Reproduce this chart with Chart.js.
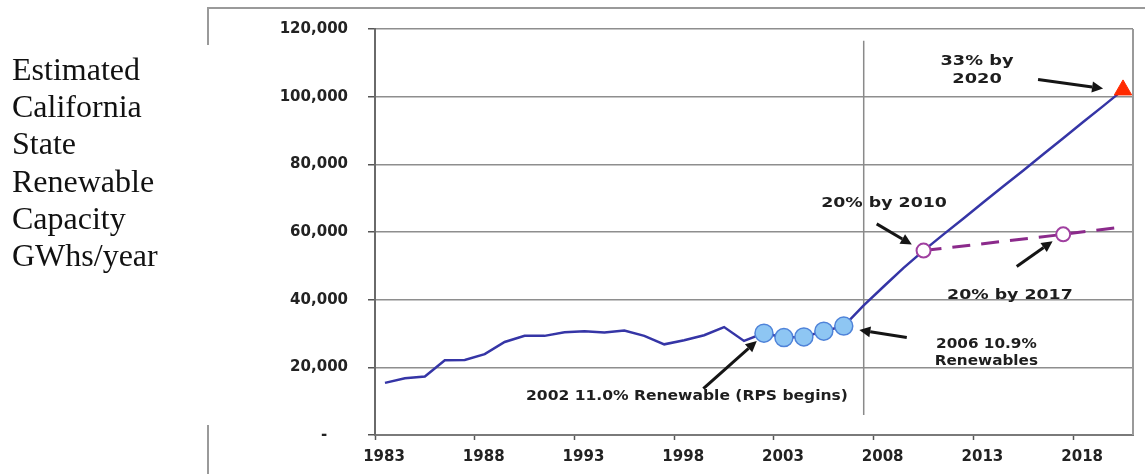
<!DOCTYPE html>
<html>
<head>
<meta charset="utf-8">
<script src="https://cdn.jsdelivr.net/npm/chart.js@4.4.1/dist/chart.umd.min.js"></script>
<style>
  html, body { margin: 0; padding: 0; background: #fff; width: 1145px; height: 474px; overflow: hidden; }
  #wrap { position: relative; width: 1145px; height: 474px; }
  #c { position: absolute; left: 0; top: 0; }
  #side { position: absolute; left: 12px; top: 51px; font-family: "Liberation Serif", serif;
          font-size: 32px; line-height: 37.2px; color: #111; white-space: nowrap; }
  .rule { position: absolute; background: #9a9a9a; }
</style>
</head>
<body>
<div id="wrap">
  <canvas id="c" width="1145" height="474"></canvas>
  <div class="rule" style="left:207px;top:7px;width:938px;height:2px"></div>
  <div class="rule" style="left:207px;top:7px;width:2px;height:38px"></div>
  <div class="rule" style="left:207px;top:425px;width:2px;height:49px"></div>
  <div id="side">Estimated<br>California<br>State<br>Renewable<br>Capacity<br>GWhs/year</div>
</div>
<script>
// Renewable generation, GWh per year, 1983-2020 (history + path to the 33% goal)
const years = [1983, 1984, 1985, 1986, 1987, 1988, 1989, 1990, 1991, 1992,
               1993, 1994, 1995, 1996, 1997, 1998, 1999, 2000, 2001, 2002,
               2003, 2004, 2005, 2006, 2007, 2008, 2009, 2010, 2011, 2012,
               2013, 2014, 2015, 2016, 2017, 2018, 2019, 2020];
const capacity = [15400, 16800, 17300, 22100, 22200, 23900, 27500, 29300, 29300, 30400,
                  30700, 30300, 30900, 29300, 26800, 28000, 29500, 31900, 27800, 30100,
                  28800, 29000, 30700, 32200, 38300, 43900, 49400, 54500, 59300, 64000,
                  68800, 73500, 78200, 83000, 87700, 92500, 97200, 102000];
// RPS years shown with markers
const rpsYears = [2002, 2003, 2004, 2005, 2006];
// 20% target path
const target20Years = [2010, 2017, 2020];
const target20Values = [54500, 59300, 61500];
const target20Marked = [2010, 2017];
// 33% goal
const target33Years = [2020];
const target33Values = [102000];
// year the RPS program is marked
const rpsStartYear = 2007;
const rpsStartSpan = [116500, 5900];
// axis ticks
const yTickValues = [0, 20000, 40000, 60000, 80000, 100000, 120000];
const xTickLabels = ['1983', '1988', '1993', '1998', '2003', '2008', '2013', '2018'];

const pts = (xs, ys) => xs.map((x, i) => ({ x: x, y: ys[i] }));

// text notes and arrows, placed in (year, GWh) space
const notes = [
  { lines: ['33% by', '2020'], x: 2012.68, y: [110400, 105100], stretch: 1.27 },
  { lines: ['20% by 2010'], x: 2008.02, y: [68500], stretch: 1.24 },
  { lines: ['20% by 2017'], x: 2014.33, y: [41300], stretch: 1.24 },
  { lines: ['2006 10.9%', 'Renewables'], x: 2013.15, y: [26900, 21700], stretch: 1.09 },
  { lines: ['2002 11.0% Renewable (RPS begins)'], x: 1998.14, y: [11400], stretch: 1.11 }
];
const arrows = [
  { from: [2015.74, 105100], to: [2019.0, 102400] },
  { from: [2007.65, 62400], to: [2009.41, 56300] },
  { from: [2014.67, 49800], to: [2016.47, 57300] },
  { from: [2009.16, 28800], to: [2006.78, 31000] },
  { from: [1998.96, 13700], to: [2001.64, 27800] }
];

const overlay = {
  id: 'overlay',
  afterDatasetsDraw(chart) {
    const { ctx, chartArea: a, scales: { x, y } } = chart;
    ctx.save();
    // right frame of the plot
    ctx.strokeStyle = '#9a9a9a';
    ctx.lineWidth = 2;
    ctx.beginPath();
    ctx.moveTo(a.right, a.top);
    ctx.lineTo(a.right, a.bottom);
    ctx.stroke();

    // arrows
    ctx.strokeStyle = '#151515';
    ctx.fillStyle = '#151515';
    ctx.lineWidth = 3;
    arrows.forEach(ar => {
      const x0 = x.getPixelForValue(ar.from[0]), y0 = y.getPixelForValue(ar.from[1]);
      const x1 = x.getPixelForValue(ar.to[0]), y1 = y.getPixelForValue(ar.to[1]);
      const ang = Math.atan2(y1 - y0, x1 - x0);
      const hl = 11, hw = 5.5;
      const bx = x1 - Math.cos(ang) * hl, by = y1 - Math.sin(ang) * hl;
      ctx.beginPath();
      ctx.moveTo(x0, y0);
      ctx.lineTo(bx, by);
      ctx.stroke();
      ctx.beginPath();
      ctx.moveTo(x1, y1);
      ctx.lineTo(bx + Math.sin(ang) * hw, by - Math.cos(ang) * hw);
      ctx.lineTo(bx - Math.sin(ang) * hw, by + Math.cos(ang) * hw);
      ctx.closePath();
      ctx.fill();
    });

    // notes
    ctx.fillStyle = '#1e1e1e';
    ctx.font = 'bold 14px "DejaVu Sans", sans-serif';
    ctx.textAlign = 'center';
    ctx.textBaseline = 'middle';
    notes.forEach(n => {
      n.lines.forEach((t, i) => {
        ctx.save();
        ctx.translate(x.getPixelForValue(n.x), y.getPixelForValue(n.y[i]));
        ctx.scale(n.stretch, 1);
        ctx.fillText(t, 0, 0);
        ctx.restore();
      });
    });
    ctx.restore();
  }
};

const tickFont = { family: '"DejaVu Sans", sans-serif', size: 15, weight: 'bold' };

new Chart(document.getElementById('c'), {
  type: 'line',
  data: {
    datasets: [
      {
        label: 'Renewable GWh',
        data: pts(years, capacity),
        borderColor: '#3535a6',
        borderWidth: 2.5,
        tension: 0,
        pointRadius: years.map(v => rpsYears.includes(v) ? 9 : 0),
        pointBackgroundColor: '#8ec6f3',
        pointBorderColor: '#4f83d9',
        pointBorderWidth: 1.5,
        order: 3
      },
      {
        label: '20% target',
        data: pts(target20Years, target20Values),
        borderColor: '#8b2a8b',
        borderWidth: 3,
        borderDash: [18, 11],
        tension: 0,
        pointRadius: target20Years.map(v => target20Marked.includes(v) ? 7 : 0),
        pointBackgroundColor: '#ffffff',
        pointBorderColor: '#a040a0',
        pointBorderWidth: 2,
        order: 2
      },
      {
        label: '33% goal',
        data: pts(target33Years, target33Values),
        showLine: false,
        pointStyle: 'triangle',
        pointRadius: 10,
        pointBackgroundColor: '#ff2a00',
        pointBorderColor: '#ff2a00',
        pointBorderWidth: 1,
        order: 1
      },
      {
        label: 'RPS start',
        data: rpsStartSpan.map(v => ({ x: rpsStartYear, y: v })),
        borderColor: '#8a8a8a',
        borderWidth: 1.5,
        pointRadius: 0,
        order: 4
      }
    ]
  },
  options: {
    responsive: false,
    animation: false,
    events: [],
    layout: { padding: { left: 200, top: 25, right: 12, bottom: 0 } },
    plugins: { legend: { display: false }, tooltip: { enabled: false } },
    scales: {
      x: {
        type: 'linear',
        min: 1982.5,
        max: 2020.5,
        afterBuildTicks: s => { s.ticks = xTickLabels.map(l => ({ value: Number(l) - 0.5 })); },
        afterFit: s => { s.height = 39; },
        ticks: {
          font: tickFont,
          color: '#222',
          padding: 8,
          labelOffset: 9,
          maxRotation: 0,
          autoSkip: false,
          callback: v => String(v + 0.5)
        },
        grid: { drawOnChartArea: false, tickLength: 5, tickColor: '#555', tickWidth: 1.5 },
        border: { color: '#7a7a7a', width: 2 }
      },
      y: {
        min: 0,
        max: 120000,
        afterBuildTicks: s => { s.ticks = yTickValues.map(v => ({ value: v })); },
        afterFit: s => { s.width = 175; },
        ticks: {
          font: tickFont,
          color: '#222',
          padding: 20,
          callback: v => v === 0 ? '-    ' : v.toLocaleString('en-US')
        },
        grid: { color: '#8e8e8e', lineWidth: 1.5, tickLength: 7, tickColor: '#555' },
        border: { color: '#6a6a6a', width: 2 }
      }
    }
  },
  plugins: [overlay]
});
</script>
</body>
</html>
